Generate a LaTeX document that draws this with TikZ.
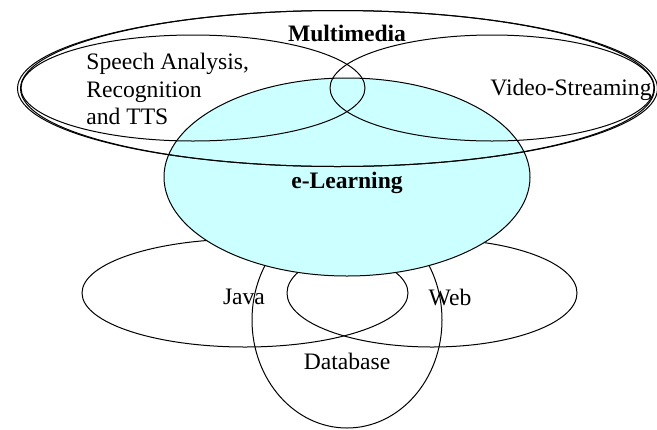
\documentclass[tikz,border=0pt]{standalone}
\usepackage{fontspec}
\setmainfont{Liberation Serif}
\definecolor{elearncyan}{HTML}{CCFFFF}
\tikzset{
	venn/.style={line width=0.5pt, color=black},
	lbl/.style={font=\fontsize{11.8}{13.7}\selectfont, inner sep=0pt},
	boldlbl/.style={lbl, font=\fontsize{11.8}{13.7}\selectfont\bfseries}
}

\begin{document}
\begin{tikzpicture}[x=0.5pt, y=-0.5pt]
			%%%%% START %%%%%
			\useasboundingbox (0, 0) rectangle (657, 429);
			
			% lower fields
			\draw[venn] (245, 293) ellipse [x radius=163, y radius=54];
			\draw[venn] (432, 293) ellipse [x radius=145, y radius=54];
			\draw[venn] (347, 320) ellipse [x radius=95, y radius=108];
			
			% e-learning
			\draw[venn, fill=elearncyan] (347, 177) ellipse [x radius=183, y radius=99];
			
			% multimedia
			\draw[venn] (337.5, 88.5) ellipse [x radius=320, y radius=78];
			\draw[venn] (337.5, 88.5) ellipse [x radius=317, y radius=78];
			\draw[venn] (193, 88) ellipse [x radius=172, y radius=53];
			\draw[venn] (492, 88) ellipse [x radius=162, y radius=53];
			
			\node[boldlbl] (multimedia) at (347, 33) {Multimedia};
			\node[lbl, align=left, anchor=west] (speech) at (86, 89) {Speech Analysis,\\Recognition\\and TTS};
			\node[lbl] (video) at (571, 90) {Video-Streaming};
			\node[boldlbl] (elearning) at (347, 183) {e-Learning};
			
			\node[lbl] (java) at (244, 297) {Java};
			\node[lbl] (web) at (450, 297) {Web};
			\node[lbl] (database) at (347, 361) {Database};
			%%%%% END %%%%%
		\end{tikzpicture}
\end{document}
